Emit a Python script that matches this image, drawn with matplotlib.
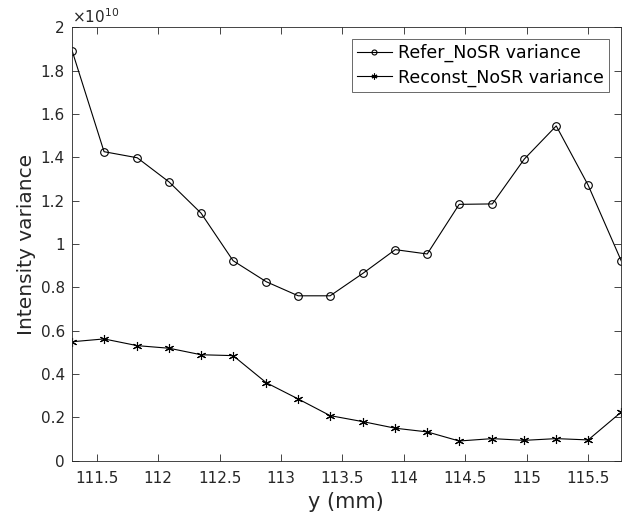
import matplotlib
matplotlib.use("Agg")
import matplotlib.pyplot as plt

plt.rcParams['font.family'] = ['DejaVu Sans']

y_mm = [111.30, 111.56, 111.83, 112.09, 112.35, 112.61, 112.88, 113.14, 113.40,
        113.67, 113.93, 114.19, 114.45, 114.72, 114.98, 115.24, 115.50, 115.77]
# values in units of 1e10
refer_var = [1.892, 1.426, 1.398, 1.286, 1.142, 0.923, 0.826, 0.761, 0.761,
             0.866, 0.974, 0.954, 1.183, 1.185, 1.392, 1.545, 1.271, 0.921]
reconst_var = [0.549, 0.562, 0.531, 0.519, 0.489, 0.485, 0.360, 0.285, 0.208,
               0.180, 0.150, 0.133, 0.091, 0.102, 0.094, 0.102, 0.096, 0.225]
xticks = [111.5, 112, 112.5, 113, 113.5, 114, 114.5, 115, 115.5]
xticklabels = ['111.5', '112', '112.5', '113', '113.5', '114', '114.5', '115', '115.5']
yticks = [0, 0.2, 0.4, 0.6, 0.8, 1.0, 1.2, 1.4, 1.6, 1.8, 2.0]
yticklabels = ['0', '0.2', '0.4', '0.6', '0.8', '1', '1.2', '1.4', '1.6', '1.8', '2']

fig = plt.figure(figsize=(6.41, 5.21), dpi=100)
ax = fig.add_axes([0.1119, 0.1157, 0.8569, 0.8319])

ax.plot(y_mm, refer_var, color='black', lw=0.8, marker='o', markersize=5.5,
        markerfacecolor='none', markeredgewidth=0.8, label='Refer_NoSR variance')
ax.plot(y_mm, reconst_var, color='black', lw=0.8, marker=(6, 2, 0), markersize=6.5,
        markeredgewidth=0.8, label='Reconst_NoSR variance')

ax.set_xlim(111.297, 115.767)
ax.set_ylim(0, 2)
ax.set_xticks(xticks)
ax.set_xticklabels(xticklabels)
ax.set_yticks(yticks)
ax.set_yticklabels(yticklabels)
axcol = '#262626'
ax.tick_params(direction='in', length=5, width=0.6, top=True, right=True,
               labelsize=11, colors=axcol, labelcolor=axcol)
ax.tick_params(axis='x', pad=7.5)
ax.tick_params(axis='y', pad=5)
for s in ax.spines.values():
    s.set_color(axcol)
    s.set_linewidth(0.6)

ax.set_xlabel('y (mm)', fontsize=15, color=axcol, labelpad=4)
ax.set_ylabel('Intensity variance', fontsize=14.5, color=axcol, labelpad=3)
ax.text(0.0, 1.004, r'$\times$10$^{10}$', transform=ax.transAxes, fontsize=11,
        color=axcol, ha='left', va='bottom')

leg = ax.legend(loc='upper right', bbox_to_anchor=(0.9787, 0.973), fontsize=12.5,
                frameon=True, fancybox=False, handlelength=2.0, handletextpad=0.38,
                borderpad=0.3, labelspacing=0.35, borderaxespad=0, markerscale=0.65)
leg.get_frame().set_edgecolor(axcol)
leg.get_frame().set_linewidth(0.6)

fig.savefig('out.png', dpi=100)
